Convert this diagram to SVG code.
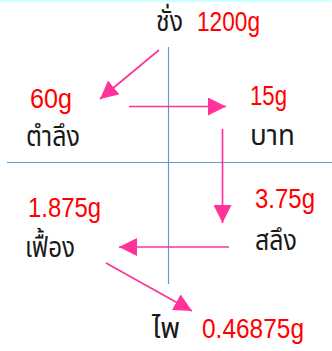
<svg xmlns="http://www.w3.org/2000/svg" width="332" height="351" viewBox="0 0 332 351">
<style>
.unit{font-family:"Noto Sans Thai","Leelawadee UI","Tahoma","DejaVu Sans","Noto Sans",sans-serif;font-size:29px;fill:#1a1a1a}
.val{font-family:"Liberation Sans",Arial,sans-serif;font-size:27px;fill:#ff0000}
.axis{stroke:#5b9bd5;stroke-width:1.2;fill:none}
.arrow{stroke:#ff3399;stroke-width:1.7;fill:none;marker-end:url(#ah)}
</style>
<defs>
<marker id="ah" markerUnits="userSpaceOnUse" markerWidth="18" markerHeight="18" viewBox="0 0 16 16" refX="16" refY="8" orient="auto">
<path d="M0,0 L16,8 L0,16 Z" fill="#ff3399"/>
</marker>
</defs>
<rect x="0" y="0" width="331" height="2" fill="#ccffff"/>
<g id="axes">
<line class="axis" x1="168.5" y1="47" x2="168.5" y2="284"/>
<line class="axis" x1="7" y1="162.5" x2="332" y2="162.5"/>
</g>
<g id="connectors">
<line class="arrow" x1="159" y1="50" x2="100" y2="99"/>
<line class="arrow" x1="129" y1="106.5" x2="226" y2="106.5"/>
<line class="arrow" x1="222.5" y1="129" x2="222.5" y2="223"/>
<line class="arrow" x1="229" y1="247" x2="119" y2="247"/>
<line class="arrow" x1="106" y1="263" x2="192" y2="311"/>
</g>
<g id="node-chang">
<text class="unit" x="156" y="31" textLength="27" lengthAdjust="spacingAndGlyphs">ชั่ง</text>
<text class="val" x="197" y="31" textLength="63" lengthAdjust="spacingAndGlyphs">1200g</text>
</g>
<g id="node-tamlueng">
<text class="val" x="30" y="108" textLength="42" lengthAdjust="spacingAndGlyphs">60g</text>
<text class="unit" x="26" y="146" textLength="54" lengthAdjust="spacingAndGlyphs">ตำลึง</text>
</g>
<g id="node-baht">
<text class="val" x="250" y="105" textLength="37" lengthAdjust="spacingAndGlyphs">15g</text>
<text class="unit" x="250" y="145" textLength="45" lengthAdjust="spacingAndGlyphs">บาท</text>
</g>
<g id="node-salueng">
<text class="val" x="255" y="208" textLength="60" lengthAdjust="spacingAndGlyphs">3.75g</text>
<text class="unit" x="255" y="250" textLength="42" lengthAdjust="spacingAndGlyphs">สลึง</text>
</g>
<g id="node-fueang">
<text class="val" x="28" y="217" textLength="73" lengthAdjust="spacingAndGlyphs">1.875g</text>
<text class="unit" x="25" y="257" textLength="50" lengthAdjust="spacingAndGlyphs">เฟื้อง</text>
</g>
<g id="node-pai">
<text class="unit" x="152" y="338" textLength="28" lengthAdjust="spacingAndGlyphs">ไพ</text>
<text class="val" x="202" y="338" textLength="102" lengthAdjust="spacingAndGlyphs">0.46875g</text>
</g>
</svg>
